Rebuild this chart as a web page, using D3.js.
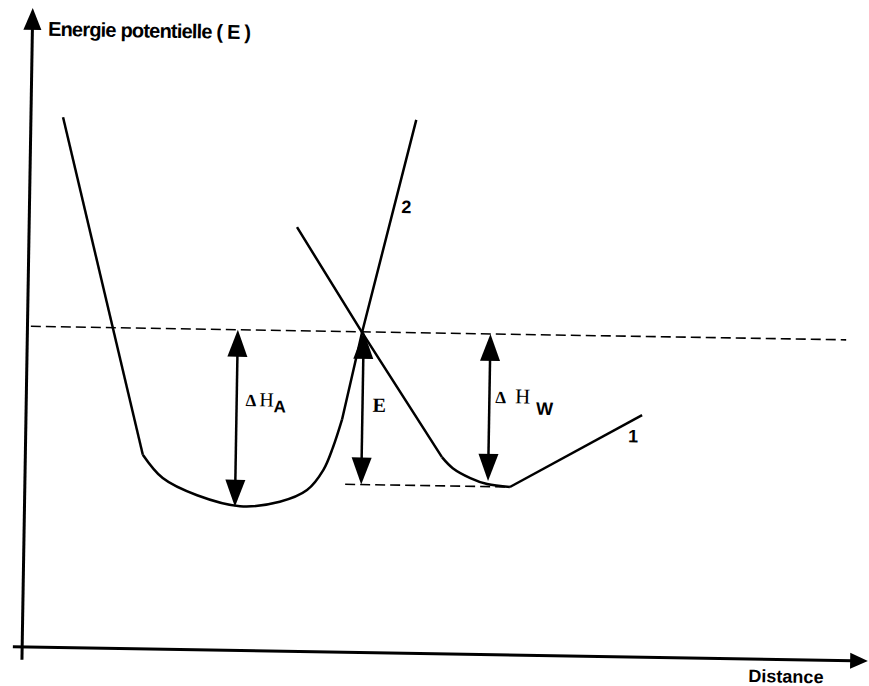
<!DOCTYPE html>
<html>
<head>
<meta charset="utf-8">
<script src="https://cdn.jsdelivr.net/npm/d3@7"></script>
<style>
  html, body { margin: 0; padding: 0; background: #fff; }
  svg { display: block; }
  .lbl { font-family: "Liberation Sans Narrow", "Liberation Sans", sans-serif; font-weight: bold; fill: #000; }
  .sym { font-family: "Liberation Serif", serif; fill: #000; }
</style>
</head>
<body>
<div id="chart"></div>
<script>
// schematic values, in arbitrary units (distance 0..10, energy 0..10)
const wellA_d = [0.37, 1.38, 1.62, 2.03, 2.54, 3.01, 3.33, 3.52, 3.63, 3.73, 3.95, 4.55];
const wellA_E = [8.30, 3.04, 2.68, 2.42, 2.26, 2.34, 2.53, 2.85, 3.21, 3.64, 5.01, 8.35];
// which points of well A start / end the rounded part
const wellA_round = [1, 9];

const wellW_d = [3.16, 3.95, 4.92, 5.05, 5.26, 5.46, 5.73, 7.28];
const wellW_E = [6.64, 5.01, 3.08, 2.91, 2.76, 2.67, 2.63, 3.79];
const wellW_round = [2, 6];

const levelTop = 5.02;      // transition level
const levelA = 2.25;        // bottom of well A
const levelW = 2.63;        // bottom of well W
const topLine = [0.03, 9.68];
const lowLine = [3.78, 5.73];

// double arrows: [distance, from, to]
const arrows = [
  { name: 'dHA', d: 2.48, from: levelTop, to: levelA },
  { name: 'E', d: 3.97, from: levelTop, to: levelW },
  { name: 'dHW', d: 5.47, from: levelTop, to: 2.72 }
];

const width = 869, height = 686;
const x = d3.scaleLinear().domain([0, 10]).range([23, 868]);
const y = d3.scaleLinear().domain([0, 10]).range([647, 8]);

const svg = d3.select('#chart').append('svg')
  .attr('width', width)
  .attr('height', height);

// the scanned figure is tilted by about one degree
const g = svg.append('g')
  .attr('transform', `rotate(0.95, ${x(0)}, ${y(0)})`);

// axes
g.append('line')
  .attr('x1', x(-0.12)).attr('y1', y(0))
  .attr('x2', x(9.82)).attr('y2', y(0))
  .attr('stroke', '#000').attr('stroke-width', 3);
g.append('path')
  .attr('d', `M${x(10)},${y(0)} L${x(9.79)},${y(0) - 8} L${x(9.79)},${y(0) + 8} Z`)
  .attr('fill', '#000');

g.append('line')
  .attr('x1', x(-0.01)).attr('y1', y(-0.2))
  .attr('x2', x(-0.01)).attr('y2', y(9.7))
  .attr('stroke', '#000').attr('stroke-width', 3);
g.append('path')
  .attr('d', `M${x(-0.01)},${y(10)} L${x(-0.01) - 9},${y(9.66)} L${x(-0.01) + 9},${y(9.66)} Z`)
  .attr('fill', '#000');

g.append('text').attr('class', 'lbl')
  .attr('x', x(0.175)).attr('y', y(9.57))
  .attr('font-size', 20)
  .attr('textLength', 203)
  .text('Energie potentielle ( E )');

g.append('text').attr('class', 'lbl')
  .attr('x', x(8.59)).attr('y', y(-0.36))
  .attr('font-size', 18)
  .text('Distance');

// dashed levels
g.append('line')
  .attr('x1', x(topLine[0])).attr('y1', y(levelTop))
  .attr('x2', x(topLine[1])).attr('y2', y(levelTop))
  .attr('stroke', '#000').attr('stroke-width', 1.6)
  .attr('stroke-dasharray', '10,5');
g.append('line')
  .attr('x1', x(lowLine[0])).attr('y1', y(levelW))
  .attr('x2', x(lowLine[1])).attr('y2', y(levelW))
  .attr('stroke', '#000').attr('stroke-width', 1.6)
  .attr('stroke-dasharray', '10,5');

// curves: straight flanks, rounded bottoms
const straight = d3.line().x(d => x(d[0])).y(d => y(d[1]));
const round = d3.line().x(d => x(d[0])).y(d => y(d[1]))
  .curve(d3.curveCatmullRom.alpha(0.5));

function drawWell(ds, es, r) {
  const pts = d3.zip(ds, es);
  const parts = [
    [pts.slice(0, r[0] + 1), straight],
    [pts.slice(r[0], r[1] + 1), round],
    [pts.slice(r[1]), straight]
  ];
  parts.forEach(([p, gen]) => {
    g.append('path')
      .datum(p)
      .attr('d', gen)
      .attr('fill', 'none').attr('stroke', '#000')
      .attr('stroke-width', 2.5).attr('stroke-linejoin', 'round');
  });
}
drawWell(wellA_d, wellA_E, wellA_round);
drawWell(wellW_d, wellW_E, wellW_round);

// double arrows
const headL = 27, headW = 10;
arrows.forEach(a => {
  const ax = x(a.d), y1 = y(a.from), y2 = y(a.to);
  g.append('line')
    .attr('x1', ax).attr('y1', y1 + headL - 2)
    .attr('x2', ax).attr('y2', y2 - headL + 2)
    .attr('stroke', '#000').attr('stroke-width', 2.5);
  g.append('path')
    .attr('d', `M${ax},${y1} L${ax - headW},${y1 + headL} L${ax + headW},${y1 + headL} Z`)
    .attr('fill', '#000');
  g.append('path')
    .attr('d', `M${ax},${y2} L${ax - headW},${y2 - headL} L${ax + headW},${y2 - headL} Z`)
    .attr('fill', '#000');
});

// arrow labels
const tA = g.append('text').attr('class', 'sym')
  .attr('x', x(2.48) + 9).attr('y', y(3.83))
  .attr('font-size', 20);
tA.append('tspan').attr('font-weight', 'bold').attr('font-size', 17).text('Δ');
tA.append('tspan').attr('dx', 3).text('H');
tA.append('tspan').attr('class', 'lbl').attr('font-weight', 'bold')
  .attr('font-size', 17).attr('dy', 6).text('A');

g.append('text').attr('class', 'sym')
  .attr('x', x(3.97) + 10).attr('y', y(3.77))
  .attr('font-size', 20).attr('font-weight', 'bold')
  .text('E');

const tW = g.append('text').attr('class', 'sym')
  .attr('x', x(5.47) + 6).attr('y', y(3.94))
  .attr('font-size', 21);
tW.append('tspan').attr('font-weight', 'bold').attr('font-size', 17).text('Δ');
tW.append('tspan').attr('dx', 9).text('H');
tW.append('tspan').attr('class', 'lbl').attr('font-weight', 'bold')
  .attr('font-size', 18).attr('dx', 6).attr('dy', 11).text('W');

// curve numbers
g.append('text').attr('class', 'lbl')
  .attr('x', x(4.39)).attr('y', y(6.89))
  .attr('font-size', 18)
  .text('2');
g.append('text').attr('class', 'lbl')
  .attr('x', x(7.12)).attr('y', y(3.36))
  .attr('font-size', 18)
  .text('1');
</script>
</body>
</html>
